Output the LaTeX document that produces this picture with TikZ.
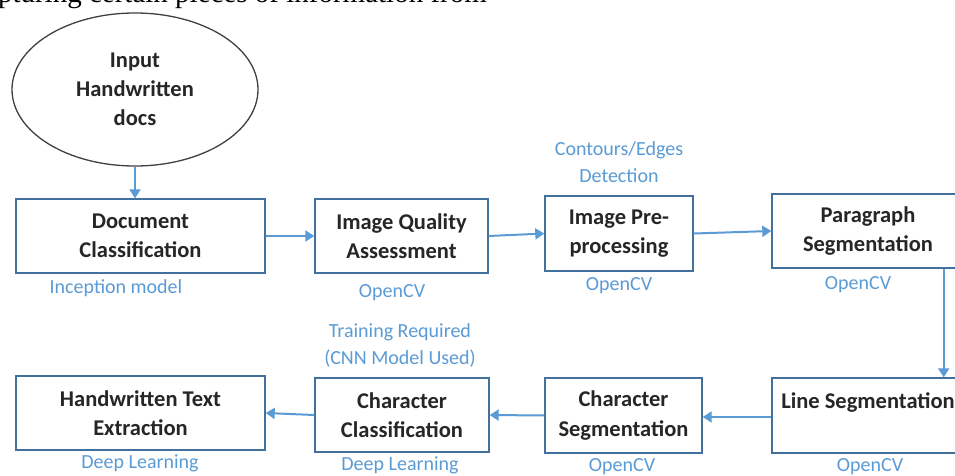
\documentclass[tikz,border=0pt]{standalone}
\usepackage{fontspec}
\setmainfont{Carlito}
\newfontfamily\bodyserif{Liberation Serif}
\usetikzlibrary{shapes.geometric,arrows.meta,calc}
\definecolor{flowblue}{HTML}{5B9BD5}
\definecolor{boxedge}{HTML}{41719C}
\tikzset{
  stage/.style={draw=boxedge, line width=1.4pt, rectangle, fill=white,
    align=center, font=\fontsize{22.5}{29.5}\selectfont\bfseries, text=black!85, inner sep=1pt},
  note/.style={text=flowblue, align=center, font=\fontsize{20}{27}\selectfont},
  flow/.style={draw=flowblue, line width=2pt, -{Triangle[width=11pt,length=9pt]}},
}
\begin{document}
\begin{tikzpicture}[x=1pt,y=-1pt]
\clip (0,0) rectangle (955,476);
\fill[white] (0,0) rectangle (955,476);

% running text of the page above the figure
\node[anchor=base east, font=\bodyserif\fontsize{29}{33}\selectfont, inner sep=0pt]
  (bodytext) at (487,3) {capturing certain pieces of information from};

% input
\node[draw=black!75, line width=1.3pt, ellipse, minimum width=246pt, minimum height=153pt,
  align=center, font=\fontsize{22.5}{29}\selectfont\bfseries, text=black!85, inner sep=0pt]
  (inp) at (135,89.5) {Input\\Handwritten\\docs};

% first row
\node[stage, minimum width=249pt, minimum height=74pt] (doc) at (140.5,236) {Document\\Classification};
\node[stage, minimum width=173pt, minimum height=74pt] (iqa) at (401.5,236) {Image Quality\\Assessment};
\node[stage, minimum width=148pt, minimum height=75pt] (ipp) at (619,233.5) {Image Pre-\\processing};
\node[stage, minimum width=192pt, minimum height=74pt] (para) at (868,231) {Paragraph\\Segmentation};

% second row
\node[stage, minimum width=192pt, minimum height=75pt] (lseg) at (868,415.5) {Line Segmentation\\\mbox{}};
\node[stage, minimum width=157pt, minimum height=75pt] (cseg) at (623.5,415.5) {Character\\Segmentation};
\node[stage, minimum width=174pt, minimum height=74pt] (ccls) at (402,415) {Character\\Classification};
\node[stage, minimum width=249pt, minimum height=74pt] (hte) at (140.5,413) {Handwritten Text\\Extraction};

% annotations
\node[note] (docn) at (116,288) {Inception model};
\node[note] (iqan) at (392,293) {OpenCV};
\node[note] (ippt) at (619,162.5) {Contours/Edges\\Detection};
\node[note] (ippn) at (619,286) {OpenCV};
\node[note] (paran) at (858,285) {OpenCV};
\node[note] (lsegn) at (870,467) {OpenCV};
\node[note] (csegn) at (622,467) {OpenCV};
\node[note] (cclst) at (400,345) {Training Required\\(CNN Model Used)};
\node[note] (cclsn) at (400,465) {Deep Learning};
\node[note] (hten) at (140,463) {Deep Learning};

% connectors
\draw[flow] (inp.south) -- (inp.south |- doc.north);
\draw[flow] (doc.east) -- (iqa.west);
\draw[flow] (iqa.east) -- (ipp.west);
\draw[flow] (ipp.east) -- (para.west);
\draw[flow] ([xshift=-21pt]para.south east) -- ([xshift=-21pt]lseg.north east);
\draw[flow] ([yshift=-1.5pt]lseg.west) -- ([yshift=-1.5pt]cseg.east);
\draw[flow] (cseg.west) -- (ccls.east);
\draw[flow] (ccls.west) -- (hte.east);
\end{tikzpicture}
\end{document}
